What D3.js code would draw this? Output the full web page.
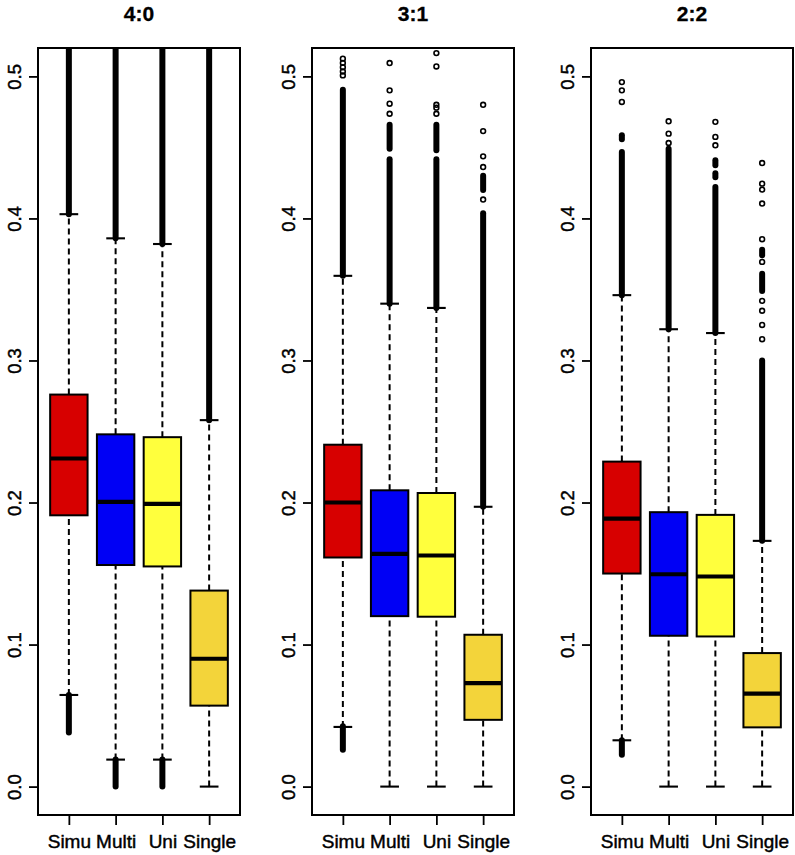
<!DOCTYPE html>
<html><head><meta charset="utf-8">
<script src="https://cdn.jsdelivr.net/npm/d3@7"></script>
<style>
html,body{margin:0;padding:0;background:#fff;}
svg{display:block;}
text{font-family:"Liberation Sans",Arial,Helvetica,sans-serif;}
</style></head>
<body><svg id="chart" width="795" height="855"></svg>
<script>
// ---- data ----
const panelTitles = ["4:0", "3:1", "2:2"];
const methods = ["Simu", "Multi", "Uni", "Single"];
const yTicks = [0.0, 0.1, 0.2, 0.3, 0.4, 0.5];
const yTickLabels = ["0.0", "0.1", "0.2", "0.3", "0.4", "0.5"];

// per panel, per method
const whiskerLow = [
  [0.0645, 0.019, 0.019, 0.0],
  [0.042, 0.0, 0.0, 0.0],
  [0.0326, 0.0, 0.0, 0.0]
];
const q1 = [
  [0.191, 0.156, 0.155, 0.057],
  [0.1613, 0.120, 0.1196, 0.047],
  [0.150, 0.1062, 0.1057, 0.0417]
];
const median = [
  [0.231, 0.2005, 0.199, 0.090],
  [0.200, 0.1638, 0.1627, 0.0729],
  [0.1887, 0.1495, 0.1479, 0.0654]
];
const q3 = [
  [0.276, 0.248, 0.246, 0.138],
  [0.2407, 0.2086, 0.2067, 0.1069],
  [0.2288, 0.1932, 0.1913, 0.094]
];
const whiskerHigh = [
  [0.403, 0.386, 0.382, 0.258],
  [0.3596, 0.340, 0.337, 0.197],
  [0.346, 0.322, 0.3193, 0.173]
];
// dense runs of outliers [low, high] (overlapping circles)
const outlierRuns = [
  [ [[0.038, 0.0645], [0.403, 0.54]], [[0.0, 0.019], [0.386, 0.54]], [[0.0, 0.019], [0.382, 0.54]], [[0.258, 0.54]] ],
  [ [[0.026, 0.0424], [0.3596, 0.4906]], [[0.449, 0.466], [0.340, 0.4416]], [[0.448, 0.466], [0.337, 0.4416]], [[0.420, 0.430], [0.197, 0.4036]] ],
  [ [[0.0225, 0.0326], [0.4557, 0.4585], [0.346, 0.4468]], [[0.322, 0.4491]], [[0.4374, 0.441], [0.429, 0.4318], [0.3193, 0.4222]], [[0.374, 0.378], [0.349, 0.361], [0.173, 0.300]] ]
];
// isolated outliers
const outlierPoints = [
  [ [], [], [], [] ],
  [ [0.5125, 0.5095, 0.5065, 0.5035, 0.5007], [0.5094, 0.4902, 0.4808, 0.4737], [0.5164, 0.507, 0.480, 0.478, 0.4737], [0.480, 0.4615, 0.4437, 0.4362, 0.4133] ],
  [ [0.496, 0.4902, 0.482], [0.4684, 0.4597, 0.4531], [0.468, 0.4574, 0.4515], [0.439, 0.4245, 0.4203, 0.4105, 0.3854, 0.3694, 0.342, 0.335, 0.325, 0.315] ]
];

// ---- style ----
const fills = ["#D70000", "#0000F5", "#FFFF3D", "#F3D43A"];
const panelLeft = [38, 312, 591];
const plotW = 202, plotTop = 48, plotBottom = 815;

const svg = d3.select("#chart");
const y = d3.scaleLinear().domain([-0.02, 0.52]).range([plotBottom, plotTop]);

panelTitles.forEach((title, p) => {
  const left = panelLeft[p];
  const x = d3.scaleLinear().domain([0.34, 4.66]).range([left, left + plotW]);
  const g = svg.append("g");
  const clipId = "clip" + p;
  svg.append("clipPath").attr("id", clipId).append("rect")
    .attr("x", left).attr("y", plotTop).attr("width", plotW).attr("height", plotBottom - plotTop);

  // title
  g.append("text").attr("x", left + plotW / 2).attr("y", 21)
    .attr("text-anchor", "middle").attr("font-weight", "bold").attr("font-size", 21)
    .attr("stroke", "#000").attr("stroke-width", 0.3)
    .text(title);

  // y axis
  const yAxis = d3.axisLeft(y).tickValues(yTicks).tickSize(9).tickFormat((d, i) => yTickLabels[i]);
  const ya = g.append("g").attr("transform", `translate(${left},0)`).call(yAxis);
  ya.select(".domain").remove();
  ya.selectAll(".tick line").attr("stroke", "#000").attr("stroke-width", 1.8);
  ya.selectAll(".tick text").attr("font-size", 18.5).attr("fill", "#000")
    .attr("stroke", "#000").attr("stroke-width", 0.45)
    .attr("font-family", "Liberation Sans, Arial, sans-serif")
    .attr("x", null).attr("dy", null)
    .attr("text-anchor", "middle")
    .attr("transform", "translate(-17,0) rotate(-90)");

  // x axis
  const xAxis = d3.axisBottom(x).tickValues([1, 2, 3, 4]).tickSize(10).tickFormat((d, i) => methods[i]);
  const xa = g.append("g").attr("transform", `translate(0,${plotBottom})`).call(xAxis);
  xa.select(".domain").remove();
  xa.selectAll(".tick line").attr("stroke", "#000").attr("stroke-width", 1.8);
  xa.selectAll(".tick text").attr("font-size", 19).attr("fill", "#000")
    .attr("stroke", "#000").attr("stroke-width", 0.45)
    .attr("font-family", "Liberation Sans, Arial, sans-serif")
    .attr("y", 33).attr("dy", null);

  const body = g.append("g").attr("clip-path", `url(#${clipId})`);
  const bw = x(1.4) - x(0.6);
  const sw = bw / 2;

  methods.forEach((m, i) => {
    const cx = x(i + 1);
    // whiskers
    [[whiskerLow[p][i], q1[p][i]], [q3[p][i], whiskerHigh[p][i]]].forEach(([a, b]) => {
      body.append("line").attr("x1", cx).attr("x2", cx).attr("y1", y(a)).attr("y2", y(b))
        .attr("stroke", "#000").attr("stroke-width", 2).attr("stroke-dasharray", "6,4");
    });
    // staples
    [whiskerLow[p][i], whiskerHigh[p][i]].forEach(v => {
      body.append("line").attr("x1", cx - sw / 2).attr("x2", cx + sw / 2).attr("y1", y(v)).attr("y2", y(v))
        .attr("stroke", "#000").attr("stroke-width", 2.1);
    });
    // box
    body.append("rect").attr("x", cx - bw / 2).attr("width", bw)
      .attr("y", y(q3[p][i])).attr("height", y(q1[p][i]) - y(q3[p][i]))
      .attr("fill", fills[i]).attr("stroke", "#000").attr("stroke-width", 2);
    // median
    body.append("line").attr("x1", cx - bw / 2).attr("x2", cx + bw / 2)
      .attr("y1", y(median[p][i])).attr("y2", y(median[p][i]))
      .attr("stroke", "#000").attr("stroke-width", 4.2);
    // dense outlier runs
    outlierRuns[p][i].forEach(([a, b]) => {
      body.append("line").attr("x1", cx).attr("x2", cx).attr("y1", y(a)).attr("y2", y(b))
        .attr("stroke", "#000").attr("stroke-width", 6).attr("stroke-linecap", "round");
    });
    // isolated outliers
    body.selectAll(null).data(outlierPoints[p][i]).enter().append("circle")
      .attr("cx", cx).attr("cy", d => y(d)).attr("r", 2.4)
      .attr("fill", "none").attr("stroke", "#000").attr("stroke-width", 1.6);
  });

  // frame
  g.append("rect").attr("x", left).attr("y", plotTop).attr("width", plotW).attr("height", plotBottom - plotTop)
    .attr("fill", "none").attr("stroke", "#000").attr("stroke-width", 2);
});
</script></body></html>
